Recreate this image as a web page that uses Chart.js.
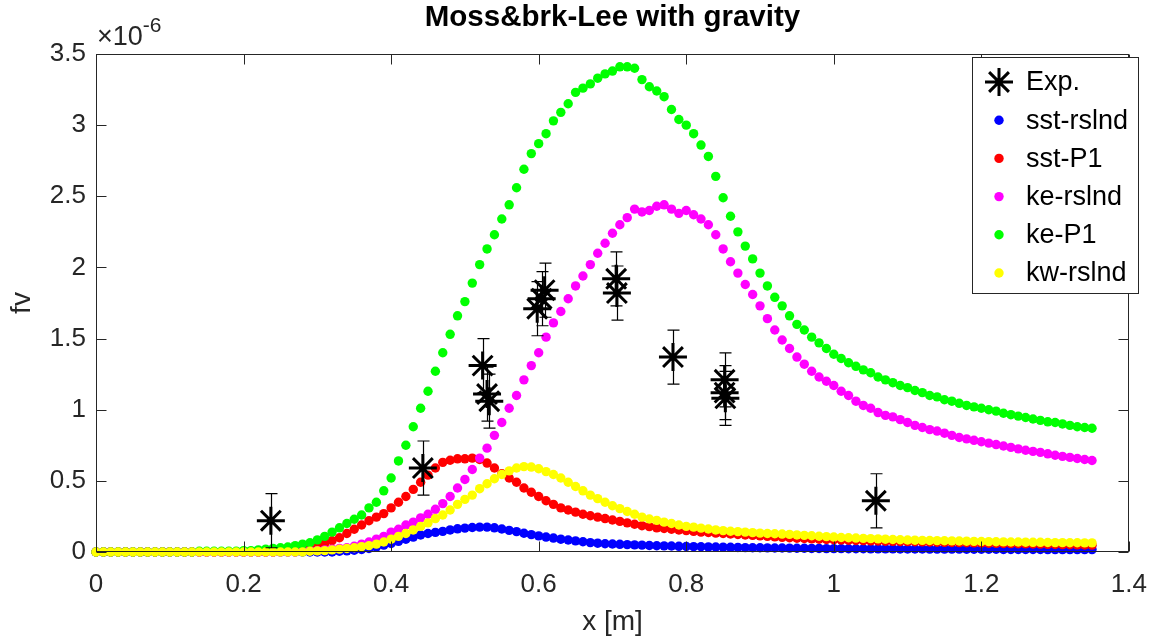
<!DOCTYPE html>
<html>
<head>
<meta charset="utf-8">
<title>Moss&amp;brk-Lee with gravity</title>
<script src="https://cdn.jsdelivr.net/npm/chart.js@4.4.1/dist/chart.umd.min.js"></script>
<style>
  html, body { margin: 0; padding: 0; background: #fff; }
  #wrap { width: 1164px; height: 640px; }
</style>
</head>
<body>
<div id="wrap"><canvas id="fvChart" width="1164" height="640"></canvas></div>
<script>
// ------------ Data (x in m, fv in units of 1e-6) ------------

const xGrid = [
  0.00, 0.01, 0.02, 0.03, 0.04, 0.05, 0.06, 0.07, 0.08, 0.09,
  0.10, 0.11, 0.12, 0.13, 0.14, 0.15, 0.16, 0.17, 0.18, 0.19,
  0.20, 0.21, 0.22, 0.23, 0.24, 0.25, 0.26, 0.27, 0.28, 0.29,
  0.30, 0.31, 0.32, 0.33, 0.34, 0.35, 0.36, 0.37, 0.38, 0.39,
  0.40, 0.41, 0.42, 0.43, 0.44, 0.45, 0.46, 0.47, 0.48, 0.49,
  0.50, 0.51, 0.52, 0.53, 0.54, 0.55, 0.56, 0.57, 0.58, 0.59,
  0.60, 0.61, 0.62, 0.63, 0.64, 0.65, 0.66, 0.67, 0.68, 0.69,
  0.70, 0.71, 0.72, 0.73, 0.74, 0.75, 0.76, 0.77, 0.78, 0.79,
  0.80, 0.81, 0.82, 0.83, 0.84, 0.85, 0.86, 0.87, 0.88, 0.89,
  0.90, 0.91, 0.92, 0.93, 0.94, 0.95, 0.96, 0.97, 0.98, 0.99,
  1.00, 1.01, 1.02, 1.03, 1.04, 1.05, 1.06, 1.07, 1.08, 1.09,
  1.10, 1.11, 1.12, 1.13, 1.14, 1.15, 1.16, 1.17, 1.18, 1.19,
  1.20, 1.21, 1.22, 1.23, 1.24, 1.25, 1.26, 1.27, 1.28, 1.29,
  1.30, 1.31, 1.32, 1.33, 1.34, 1.35
];

const sstRslnd = [
  0, 0, 0, 0, 0, 0, 0, 0, 0, 0,
  0, 0, 0, 0, 0, 0, 0, 0, 0, 0,
  0, 0, 0, 0, 0, 0, 0, 0, 0, 0,
  0, 0, 0, 0.005, 0.008, 0.012, 0.018, 0.025, 0.035, 0.048,
  0.06, 0.075, 0.09, 0.105, 0.12, 0.13, 0.138, 0.145, 0.155, 0.163,
  0.168, 0.172, 0.175, 0.175, 0.17, 0.162, 0.152, 0.143, 0.132, 0.122,
  0.113, 0.105, 0.098, 0.09, 0.084, 0.078, 0.072, 0.066, 0.062, 0.058,
  0.056, 0.054, 0.052, 0.05, 0.048, 0.046, 0.044, 0.043, 0.042, 0.04,
  0.039, 0.038, 0.037, 0.036, 0.035, 0.034, 0.033, 0.032, 0.031, 0.03,
  0.03, 0.029, 0.028, 0.028, 0.027, 0.026, 0.026, 0.025, 0.025, 0.024,
  0.024, 0.024, 0.023, 0.023, 0.023, 0.022, 0.022, 0.022, 0.022, 0.021,
  0.021, 0.021, 0.021, 0.02, 0.02, 0.02, 0.02, 0.02, 0.019, 0.019,
  0.019, 0.019, 0.019, 0.018, 0.018, 0.018, 0.018, 0.018, 0.018, 0.017,
  0.017, 0.017, 0.017, 0.017, 0.017, 0.017
];

const sstP1 = [
  0, 0, 0, 0, 0, 0, 0, 0, 0, 0,
  0, 0, 0, 0, 0, 0, 0, 0, 0, 0,
  0, 0, 0, 0, 0, 0.005, 0.01, 0.015, 0.02, 0.03,
  0.045, 0.06, 0.08, 0.10, 0.13, 0.16, 0.19, 0.22, 0.245, 0.27,
  0.31, 0.35, 0.39, 0.44, 0.49, 0.54, 0.59, 0.63, 0.645, 0.655,
  0.655, 0.66, 0.65, 0.625, 0.59, 0.55, 0.52, 0.49, 0.45, 0.42,
  0.39, 0.36, 0.335, 0.31, 0.295, 0.28, 0.265, 0.255, 0.245, 0.235,
  0.225, 0.215, 0.205, 0.195, 0.185, 0.178, 0.17, 0.165, 0.16, 0.155,
  0.15, 0.145, 0.14, 0.137, 0.133, 0.13, 0.127, 0.123, 0.12, 0.117,
  0.113, 0.11, 0.106, 0.103, 0.10, 0.097, 0.095, 0.092, 0.09, 0.088,
  0.086, 0.084, 0.083, 0.081, 0.08, 0.078, 0.077, 0.076, 0.075, 0.074,
  0.073, 0.072, 0.071, 0.07, 0.069, 0.068, 0.067, 0.066, 0.065, 0.064,
  0.063, 0.062, 0.061, 0.06, 0.059, 0.058, 0.057, 0.056, 0.055, 0.054,
  0.053, 0.052, 0.051, 0.05, 0.049, 0.048
];

const keRslnd = [
  0, 0, 0, 0, 0, 0, 0, 0, 0, 0,
  0, 0, 0, 0, 0, 0, 0, 0, 0, 0,
  0, 0, 0, 0, 0, 0, 0, 0, 0.005, 0.01,
  0.01, 0.015, 0.02, 0.025, 0.03, 0.04, 0.055, 0.07, 0.09, 0.11,
  0.14, 0.16, 0.19, 0.21, 0.24, 0.265, 0.30, 0.34, 0.39, 0.45,
  0.51, 0.58, 0.66, 0.73, 0.82, 0.91, 1.01, 1.10, 1.21, 1.31,
  1.40, 1.51, 1.61, 1.69, 1.78, 1.87, 1.94, 2.02, 2.10, 2.17,
  2.24, 2.30, 2.35, 2.41, 2.39, 2.40, 2.43, 2.44, 2.41, 2.38,
  2.40, 2.37, 2.34, 2.30, 2.23, 2.13, 2.04, 1.96, 1.88, 1.81,
  1.73, 1.64, 1.56, 1.49, 1.43, 1.37, 1.32, 1.27, 1.23, 1.20,
  1.17, 1.13, 1.10, 1.06, 1.03, 1.01, 0.98, 0.96, 0.95, 0.93,
  0.91, 0.89, 0.875, 0.86, 0.85, 0.835, 0.82, 0.805, 0.795, 0.785,
  0.775, 0.765, 0.755, 0.745, 0.735, 0.725, 0.715, 0.707, 0.70, 0.69,
  0.68, 0.672, 0.665, 0.657, 0.65, 0.643
];

const keP1 = [
  0, 0, 0, 0, 0, 0, 0, 0, 0, 0,
  0, 0, 0, 0, 0.005, 0.005, 0.005, 0.005, 0.005, 0.005,
  0.01, 0.01, 0.015, 0.02, 0.025, 0.03, 0.035, 0.045, 0.055, 0.065,
  0.085, 0.11, 0.14, 0.17, 0.20, 0.23, 0.26, 0.31, 0.35, 0.43,
  0.52, 0.64, 0.75, 0.88, 1.01, 1.13, 1.27, 1.40, 1.53, 1.66,
  1.76, 1.89, 2.02, 2.13, 2.23, 2.34, 2.44, 2.56, 2.69, 2.80,
  2.87, 2.94, 3.03, 3.09, 3.15, 3.23, 3.26, 3.29, 3.33, 3.36,
  3.38, 3.41, 3.41, 3.40, 3.32, 3.27, 3.24, 3.20, 3.11, 3.04,
  3.00, 2.94, 2.86, 2.78, 2.64, 2.49, 2.36, 2.25, 2.15, 2.06,
  1.96, 1.87, 1.79, 1.73, 1.66, 1.60, 1.56, 1.51, 1.47, 1.43,
  1.39, 1.36, 1.33, 1.305, 1.28, 1.26, 1.23, 1.21, 1.19, 1.17,
  1.155, 1.135, 1.12, 1.10, 1.09, 1.07, 1.06, 1.045, 1.03, 1.02,
  1.01, 1.00, 0.99, 0.975, 0.965, 0.955, 0.945, 0.935, 0.925, 0.915,
  0.91, 0.90, 0.89, 0.88, 0.875, 0.87
];

const kwRslnd = [
  0, 0, 0, 0, 0, 0, 0, 0, 0, 0,
  0, 0, 0, 0, 0, 0, 0, 0, 0, 0,
  0, 0, 0, 0, 0, 0, 0, 0, 0, 0.005,
  0.008, 0.01, 0.015, 0.02, 0.025, 0.03, 0.038, 0.045, 0.055, 0.07,
  0.09, 0.11, 0.13, 0.155, 0.18, 0.205, 0.235, 0.26, 0.295, 0.335,
  0.37, 0.40, 0.445, 0.48, 0.515, 0.545, 0.57, 0.59, 0.60, 0.597,
  0.585, 0.565, 0.545, 0.52, 0.49, 0.46, 0.43, 0.40, 0.375, 0.35,
  0.325, 0.305, 0.285, 0.265, 0.245, 0.232, 0.222, 0.21, 0.20, 0.19,
  0.18, 0.175, 0.168, 0.162, 0.155, 0.15, 0.146, 0.143, 0.14, 0.136,
  0.133, 0.13, 0.128, 0.126, 0.124, 0.12, 0.117, 0.114, 0.111, 0.108,
  0.105, 0.102, 0.10, 0.098, 0.096, 0.094, 0.092, 0.09, 0.088, 0.086,
  0.084, 0.083, 0.082, 0.081, 0.08, 0.079, 0.078, 0.077, 0.076, 0.075,
  0.074, 0.073, 0.072, 0.071, 0.07, 0.07, 0.069, 0.068, 0.068, 0.067,
  0.066, 0.066, 0.065, 0.065, 0.064, 0.064
];

// measured fv with error bars
const expX   = [0.237, 0.443, 0.524, 0.530, 0.533, 0.598, 0.604, 0.608, 0.705, 0.706, 0.782, 0.852, 0.852, 0.853, 1.057];
const expY   = [0.22,  0.59,  1.31,  1.11,  1.06,  1.71,  1.78,  1.84,  1.92,  1.82,  1.37,  1.21,  1.12,  1.08,  0.36];
const expErr = [0.19,  0.19,  0.19,  0.19,  0.19,  0.19,  0.19,  0.19,  0.19,  0.19,  0.19,  0.19,  0.19,  0.19,  0.19];

const xTicks = [0, 0.2, 0.4, 0.6, 0.8, 1, 1.2, 1.4];
const yTicks = [0, 0.5, 1, 1.5, 2, 2.5, 3, 3.5];

// ------------ Helpers ------------

const FONT = "'Liberation Sans', Arial, sans-serif";
const INK = '#262626';

const toPoints = ys => xGrid.map((x, i) => ({ x, y: ys[i] }));

function drawStar(ctx, cx, cy, r) {
  const d = r * Math.SQRT1_2;
  ctx.beginPath();
  ctx.moveTo(cx - r, cy); ctx.lineTo(cx + r, cy);
  ctx.moveTo(cx, cy - r); ctx.lineTo(cx, cy + r);
  ctx.moveTo(cx - d, cy - d); ctx.lineTo(cx + d, cy + d);
  ctx.moveTo(cx - d, cy + d); ctx.lineTo(cx + d, cy - d);
  ctx.stroke();
}

// error bars, box with inward ticks, exponent label and the legend
const matlabAxes = {
  id: 'matlabAxes',
  afterDatasetsDraw(chart) {
    const { ctx, scales: { x, y } } = chart;
    ctx.save();
    ctx.strokeStyle = '#000';
    ctx.lineWidth = 1.2;
    expX.forEach((xv, i) => {
      const px = Math.round(x.getPixelForValue(xv)) + 0.5;
      const top = y.getPixelForValue(expY[i] + expErr[i]);
      const bot = y.getPixelForValue(expY[i] - expErr[i]);
      ctx.beginPath();
      ctx.moveTo(px, top); ctx.lineTo(px, bot);
      ctx.moveTo(px - 6, top); ctx.lineTo(px + 6, top);
      ctx.moveTo(px - 6, bot); ctx.lineTo(px + 6, bot);
      ctx.stroke();
    });
    ctx.restore();
  },
  afterDraw(chart) {
    const { ctx, chartArea: a, scales: { x, y } } = chart;
    ctx.save();

    // axes box
    ctx.strokeStyle = INK;
    ctx.lineWidth = 1;
    const L = Math.round(a.left) + 0.5, R = Math.round(a.right) - 0.5;
    const T = Math.round(a.top) + 0.5, B = Math.round(a.bottom) - 0.5;
    ctx.strokeRect(L, T, R - L, B - T);

    // inward ticks on all four sides
    const tl = 10;
    ctx.beginPath();
    xTicks.forEach(v => {
      const px = Math.round(x.getPixelForValue(v)) + 0.5;
      ctx.moveTo(px, B); ctx.lineTo(px, B - tl);
      ctx.moveTo(px, T); ctx.lineTo(px, T + tl);
    });
    yTicks.forEach(v => {
      const py = Math.round(y.getPixelForValue(v)) + 0.5;
      ctx.moveTo(L, py); ctx.lineTo(L + tl, py);
      ctx.moveTo(R, py); ctx.lineTo(R - tl, py);
    });
    ctx.stroke();

    // exponent of the y axis
    ctx.fillStyle = INK;
    ctx.textBaseline = 'alphabetic';
    ctx.textAlign = 'left';
    ctx.font = `27px ${FONT}`;
    ctx.fillText('\u00d710', a.left + 1, 45);
    const w = ctx.measureText('\u00d710').width;
    ctx.font = `21px ${FONT}`;
    ctx.fillText('-6', a.left + 1 + w, 32);

    // legend
    const box = { left: 972.5, top: 57.5, width: 166, height: 236 };
    ctx.fillStyle = '#fff';
    ctx.fillRect(box.left, box.top, box.width, box.height);
    ctx.strokeStyle = INK;
    ctx.strokeRect(box.left, box.top, box.width, box.height);
    ctx.font = `27px ${FONT}`;
    ctx.textBaseline = 'middle';
    chart.data.datasets.forEach((ds, i) => {
      const cy = 82 + i * 38.2;
      if (ds.pointStyle === 'star') {
        ctx.strokeStyle = '#000';
        ctx.lineWidth = 3;
        drawStar(ctx, 999, cy, 14);
      } else {
        ctx.fillStyle = ds.backgroundColor;
        ctx.beginPath();
        ctx.arc(999, cy, 4.7, 0, Math.PI * 2);
        ctx.fill();
      }
      ctx.fillStyle = '#000';
      ctx.fillText(ds.label, 1026, cy + 1);
    });

    ctx.restore();
  }
};

// ------------ Chart ------------

const dots = (label, ys, color, order) => ({
  label,
  data: toPoints(ys),
  backgroundColor: color,
  borderColor: color,
  borderWidth: 0,
  pointRadius: 4.7,
  pointHoverRadius: 4.7,
  showLine: false,
  clip: false,
  order
});

new Chart(document.getElementById('fvChart'), {
  type: 'scatter',
  data: {
    datasets: [
      {
        label: 'Exp.',
        data: expX.map((x, i) => ({ x, y: expY[i] })),
        pointStyle: 'star',
        pointRadius: 14,
        pointHoverRadius: 14,
        borderWidth: 3,
        borderColor: '#000',
        backgroundColor: '#000',
        showLine: false,
        clip: false,
        order: 0
      },
      dots('sst-rslnd', sstRslnd, '#0000ff', 5),
      dots('sst-P1', sstP1, '#ff0000', 4),
      dots('ke-rslnd', keRslnd, '#ff00ff', 3),
      dots('ke-P1', keP1, '#00ff00', 2),
      dots('kw-rslnd', kwRslnd, '#ffff00', 1)
    ]
  },
  options: {
    responsive: false,
    devicePixelRatio: 1,
    animation: false,
    events: [],
    layout: { padding: { top: 0, left: 0, right: 25, bottom: 0 } },
    plugins: {
      legend: { display: false },
      tooltip: { enabled: false },
      title: {
        display: true,
        text: 'Moss&brk-Lee with gravity',
        fullSize: false,
        color: '#000',
        font: { family: FONT, size: 29.5, weight: 'bold' },
        padding: { top: 0, bottom: 18.6 }
      }
    },
    scales: {
      x: {
        type: 'linear',
        min: 0,
        max: 1.4,
        afterBuildTicks: s => { s.ticks = xTicks.map(value => ({ value })); },
        afterFit: s => { s.height = 88; },
        grid: { display: false, drawTicks: false },
        border: { display: false },
        ticks: {
          color: INK,
          padding: 17,
          maxRotation: 0,
          font: { family: FONT, size: 26 },
          callback: v => String(v)
        },
        title: {
          display: true,
          text: 'x [m]',
          color: INK,
          font: { family: FONT, size: 28 },
          padding: { top: 0, bottom: 1 }
        }
      },
      y: {
        type: 'linear',
        min: 0,
        max: 3.5,
        afterBuildTicks: s => { s.ticks = yTicks.map(value => ({ value })); },
        afterFit: s => { s.width = 96; },
        grid: { display: false, drawTicks: false },
        border: { display: false },
        ticks: {
          color: INK,
          padding: 10,
          font: { family: FONT, size: 26 },
          callback: v => String(v)
        },
        title: {
          display: true,
          text: 'fv',
          color: INK,
          font: { family: FONT, size: 28 },
          padding: { top: 5, bottom: 0 }
        }
      }
    }
  },
  plugins: [matlabAxes]
});
</script>
</body>
</html>
